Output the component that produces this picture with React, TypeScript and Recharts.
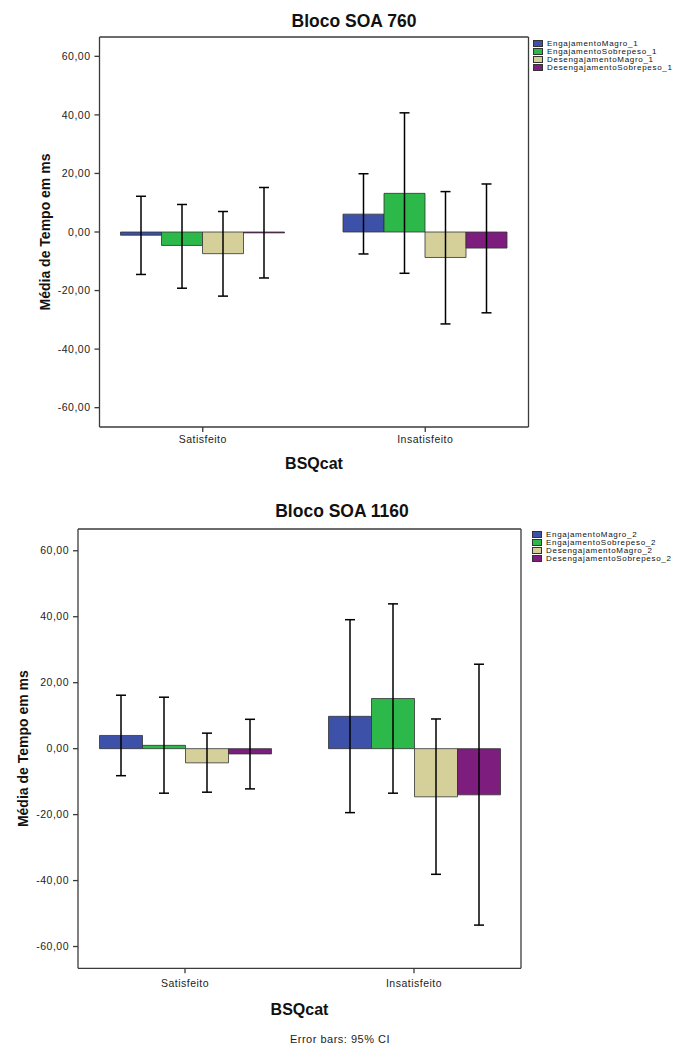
import React from "react";
import {
  Bar,
  BarChart,
  CartesianGrid,
  ErrorBar,
  Legend,
  XAxis,
  YAxis,
} from "recharts";

// categories on the x axis
const categories = ["Satisfeito", "Insatisfeito"];
const yTicks = [-60, -40, -20, 0, 20, 40, 60];
const seriesColors = ["#3C51A7", "#2DB84A", "#D5D09A", "#7D1E7F"];

// Bloco SOA 760 - one row per series, [Satisfeito, Insatisfeito]
const soa760Names = [
  "EngajamentoMagro_1",
  "EngajamentoSobrepeso_1",
  "DesengajamentoMagro_1",
  "DesengajamentoSobrepeso_1",
];
const soa760Mean = [
  [-1.1, 6.1],
  [-4.6, 13.2],
  [-7.4, -8.7],
  [-0.3, -5.5],
];
const soa760Low = [
  [-14.5, -7.5],
  [-19.2, -14.1],
  [-21.9, -31.4],
  [-15.7, -27.6],
];
const soa760High = [
  [12.2, 19.9],
  [9.4, 40.7],
  [7.0, 13.8],
  [15.2, 16.4],
];

// Bloco SOA 1160
const soa1160Names = [
  "EngajamentoMagro_2",
  "EngajamentoSobrepeso_2",
  "DesengajamentoMagro_2",
  "DesengajamentoSobrepeso_2",
];
const soa1160Mean = [
  [4.0, 9.8],
  [1.0, 15.2],
  [-4.3, -14.6],
  [-1.6, -14.0],
];
const soa1160Low = [
  [-8.2, -19.4],
  [-13.5, -13.5],
  [-13.2, -38.1],
  [-12.2, -53.5],
];
const soa1160High = [
  [16.2, 39.1],
  [15.6, 43.9],
  [4.7, 9.0],
  [8.9, 25.6],
];

const FONT = "'Liberation Sans', Arial, Helvetica, sans-serif";
const FRAME = "#3b3b3b";
const DOMAIN: [number, number] = [-66.6, 66.6];

const fmt = (v: number) => v.toFixed(2).replace(".", ",");

type ChartLayout = {
  height: number;
  frameTop: number;
  frameBottom: number;
  frameLeft: number;
  frameRight: number;
  xAxisHeight: number;
  barSize: number;
  pad: number;
  titleX: number;
  titleY: number;
  yLabelX: number;
  xLabelY: number;
  tickMargin: number;
  legendLeft: number;
  legendTop: number;
  noteX?: number;
  noteY?: number;
};

const LegendBox = ({ names }: { names: string[] }) => (
  <div
    style={{
      fontFamily: FONT,
      fontSize: 8,
      letterSpacing: 0.7,
      color: "#111",
    }}
  >
    {names.map((n, i) => (
      <div
        key={n}
        style={{
          display: "flex",
          alignItems: "center",
          height: 8,
          whiteSpace: "nowrap",
        }}
      >
        <span
          style={{
            width: 10,
            height: 7,
            background: seriesColors[i],
            border: "1px solid #333",
            boxSizing: "border-box",
            marginRight: 4,
            flex: "none",
          }}
        />
        {n}
      </div>
    ))}
  </div>
);

interface BlocoChartProps {
  title: string;
  names: string[];
  means: number[][];
  lows: number[][];
  highs: number[][];
  lay: ChartLayout;
}

const BlocoChart: React.FC<BlocoChartProps> = ({
  title,
  names,
  means,
  lows,
  highs,
  lay,
}) => {
  const rows = categories.map((c, i) => {
    const row: Record<string, any> = { category: c };
    names.forEach((_, s) => {
      row[`m${s}`] = means[s][i];
      row[`e${s}`] = [means[s][i] - lows[s][i], highs[s][i] - means[s][i]];
    });
    return row;
  });

  const yAxisWidth = 60;
  const frameMidX = (lay.frameLeft + lay.frameRight) / 2;
  const frameMidY = (lay.frameTop + lay.frameBottom) / 2;

  return (
    <BarChart
      width={685}
      height={lay.height}
      data={rows}
      barGap={0}
      margin={{
        top: lay.frameTop,
        right: 685 - lay.frameRight,
        left: lay.frameLeft - yAxisWidth,
        bottom: lay.height - lay.frameBottom - lay.xAxisHeight,
      }}
    >
      {/* top and right edges of the plot frame */}
      <CartesianGrid
        stroke={FRAME}
        strokeWidth={1.3}
        fill="none"
        horizontalCoordinatesGenerator={({ offset }: any) => [offset.top]}
        verticalCoordinatesGenerator={({ offset }: any) => [
          offset.left + offset.width,
        ]}
      />
      <XAxis
        dataKey="category"
        interval={0}
        height={lay.xAxisHeight}
        padding={{ left: lay.pad, right: lay.pad }}
        axisLine={{ stroke: FRAME, strokeWidth: 1.3 }}
        tickLine={{ stroke: FRAME, strokeWidth: 1.3 }}
        tickSize={5}
        tickMargin={lay.tickMargin}
        tick={{ fontSize: 10.5, fill: "#222", fontFamily: FONT, letterSpacing: 0.5 }}
        label={() => (
          <g>
            <text
              x={lay.titleX}
              y={lay.titleY}
              textAnchor="middle"
              fontFamily={FONT}
              fontWeight="bold"
              fontSize={17.5}
              fill="#111"
            >
              {title}
            </text>
            <text
              x={frameMidX}
              y={lay.xLabelY}
              textAnchor="middle"
              dominantBaseline="central"
              fontFamily={FONT}
              fontWeight="bold"
              fontSize={16}
              fill="#111"
            >
              BSQcat
            </text>
            {lay.noteX !== undefined && (
              <text
                x={lay.noteX}
                y={lay.noteY}
                textAnchor="middle"
                dominantBaseline="central"
                fontFamily={FONT}
                fontSize={11}
                letterSpacing={0.5}
                fill="#222"
              >
                Error bars: 95% CI
              </text>
            )}
          </g>
        )}
      />
      <YAxis
        type="number"
        width={yAxisWidth}
        domain={DOMAIN}
        ticks={yTicks}
        interval={0}
        tickFormatter={fmt}
        axisLine={{ stroke: FRAME, strokeWidth: 1.3 }}
        tickLine={{ stroke: FRAME, strokeWidth: 1.3 }}
        tickSize={5}
        tickMargin={4}
        tick={{ fontSize: 10.5, fill: "#222", fontFamily: FONT, letterSpacing: 0.5 }}
        label={() => (
          <text
            x={lay.yLabelX}
            y={frameMidY}
            transform={`rotate(-90 ${lay.yLabelX} ${frameMidY})`}
            textAnchor="middle"
            dominantBaseline="central"
            fontFamily={FONT}
            fontWeight="bold"
            fontSize={14}
            fill="#111"
          >
            Média de Tempo em ms
          </text>
        )}
      />
      <Legend
        layout="vertical"
        align="center"
        verticalAlign="middle"
        wrapperStyle={{ left: lay.legendLeft, top: lay.legendTop, width: 152 }}
        content={() => <LegendBox names={names} />}
      />
      {names.map((n, s) => (
        <Bar
          key={n}
          dataKey={`m${s}`}
          name={n}
          fill={seriesColors[s]}
          stroke="#333"
          strokeWidth={0.8}
          barSize={lay.barSize}
          isAnimationActive={false}
        >
          <ErrorBar
            dataKey={`e${s}`}
            direction="y"
            width={5}
            stroke="#000"
            strokeWidth={1.5}
            isAnimationActive={false}
          />
        </Bar>
      ))}
    </BarChart>
  );
};

const topLayout: ChartLayout = {
  height: 490,
  frameTop: 37,
  frameBottom: 427,
  frameLeft: 99.5,
  frameRight: 528.5,
  xAxisHeight: 50,
  barSize: 41,
  pad: -8,
  titleX: 354,
  titleY: 27,
  yLabelX: 44.5,
  xLabelY: 463,
  tickMargin: 4,
  legendLeft: 533,
  legendTop: 39,
};

const bottomLayout: ChartLayout = {
  height: 556,
  frameTop: 39,
  frameBottom: 478.3,
  frameLeft: 78,
  frameRight: 521,
  xAxisHeight: 75,
  barSize: 43,
  pad: -7.5,
  titleX: 342,
  titleY: 26.7,
  yLabelX: 23,
  xLabelY: 519,
  tickMargin: 6,
  legendLeft: 532,
  legendTop: 40,
  noteX: 340,
  noteY: 549,
};

export default function App() {
  return (
    <div
      style={{
        position: "absolute",
        left: 0,
        top: 0,
        width: 685,
        height: 1046,
        background: "#fff",
      }}
    >
      <div style={{ position: "absolute", left: 0, top: 0 }}>
        <BlocoChart
          title="Bloco SOA 760"
          names={soa760Names}
          means={soa760Mean}
          lows={soa760Low}
          highs={soa760High}
          lay={topLayout}
        />
      </div>
      <div style={{ position: "absolute", left: 0, top: 490 }}>
        <BlocoChart
          title="Bloco SOA 1160"
          names={soa1160Names}
          means={soa1160Mean}
          lows={soa1160Low}
          highs={soa1160High}
          lay={bottomLayout}
        />
      </div>
    </div>
  );
}
